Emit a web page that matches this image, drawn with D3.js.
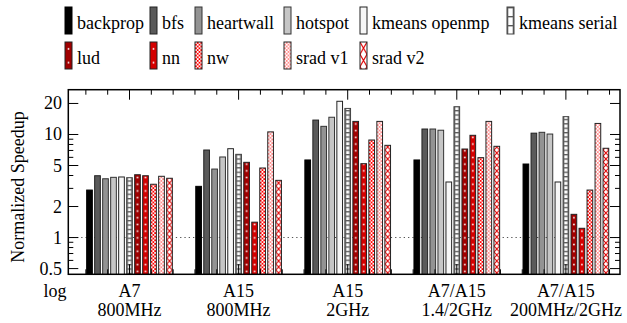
<!DOCTYPE html>
<html>
<head>
<meta charset="utf-8">
<script src="https://cdn.jsdelivr.net/npm/d3@7"></script>
<style>
  html, body { margin: 0; padding: 0; background: #fff; }
  svg { display: block; }
</style>
</head>
<body>
<svg id="chart" width="627" height="323" font-family="'Liberation Serif', 'DejaVu Serif', serif"></svg>
<script>
// ---------------- data ----------------
const groups = ["A7|800MHz", "A15|800MHz", "A15|2GHz", "A7/A15|1.4/2GHz", "A7/A15|200MHz/2GHz"];
const series = ["backprop", "bfs", "heartwall", "hotspot", "kmeans openmp", "kmeans serial",
                "lud", "nn", "nw", "srad v1", "srad v2"];
const backprop     = [2.89, 3.14, 5.66, 5.66, 5.17];
const bfs          = [3.98, 7.07, 13.8, 11.3, 10.3];
const heartwall    = [3.72, 4.62, 12.0, 11.3, 10.5];
const hotspot      = [3.84, 6.05, 14.7, 11.0, 10.1];
const kmeansOpenmp = [3.87, 7.28, 21.0, 3.46, 3.46];
const kmeansSerial = [3.81, 6.42, 17.9, 18.6, 14.9];
const lud          = [4.07, 5.37, 13.4, 7.23, 1.68];
const nn           = [3.98, 1.41, 5.21, 9.82, 1.23];
const nw           = [3.29, 4.73, 8.84, 5.96, 2.89];
const sradV1       = [3.93, 10.6, 13.4, 13.4, 12.8];
const sradV2       = [3.76, 3.59, 7.85, 7.68, 7.35];
const values = [backprop, bfs, heartwall, hotspot, kmeansOpenmp, kmeansSerial, lud, nn, nw, sradV1, sradV2];
const yMajorTicks = [0.5, 1, 2, 5, 10, 20];
const yMinorTicks = [0.6, 0.7, 0.8, 0.9, 3, 4, 6, 7, 8, 9];
const yTickLabels = ["0.5", "1", "2", "5", "10", "20"];
const yTitle = "Normalized Speedup";
const xCornerLabel = "log";

// ---------------- layout ----------------
const FONT = "Liberation Serif";
const svg = d3.select("#chart");
const plot = { left: 68.3, right: 620, top: 89.7, bottom: 274.3 };

const y = d3.scaleLog().domain([0.44, 27.2]).range([plot.bottom, plot.top]);
const xAxisLin = d3.scaleLinear().domain([-0.561, 4.496]).range([plot.left, plot.right]);
const xGroup = d3.scalePoint().domain(groups).range([xAxisLin(0), xAxisLin(4)]);
const xBar = d3.scaleBand().domain(series).range([-44, 44]).paddingInner(0.29).paddingOuter(0.145);
const bw = xBar.bandwidth();

function addText(x, yy, str, anchor) {
  return svg.append("text").attr("x", x).attr("y", yy)
    .attr("font-family", FONT).attr("font-size", 18).attr("fill", "#000")
    .attr("text-anchor", anchor || "start").text(str);
}

// ---------------- patterns ----------------
const defs = svg.append("defs");
const styles = {
  "backprop":      { fill: "#000000", stroke: "#000" },
  "bfs":           { fill: "#5a5a5a", stroke: "#222" },
  "heartwall":     { fill: "#939393", stroke: "#333" },
  "hotspot":       { fill: "#c6c6c6", stroke: "#333" },
  "kmeans openmp": { fill: "#f7f7f7", stroke: "#222" },
  "kmeans serial": { pattern: "ladder", stroke: "#444" },
  "lud":           { pattern: "dots", bg: "#a00000", stroke: "#222" },
  "nn":            { pattern: "dots", bg: "#d40000", stroke: "#222" },
  "nw":            { pattern: "checker", bg: "#ff0000", fg: "#ffffff", stroke: "#222" },
  "srad v1":       { pattern: "checker", bg: "#ff8c8c", fg: "#ffffff", stroke: "#222" },
  "srad v2":       { pattern: "cross", bg: "#ffffff", fg: "#e00000", stroke: "#222" }
};

// sc: vertical repeat scale (legend samples use a coarser repeat)
function makePattern(id, st, x0, w, y0, sc) {
  if (st.pattern === "ladder") {
    const h = 4.4 * sc;
    const p = defs.append("pattern").attr("id", id).attr("patternUnits", "userSpaceOnUse")
      .attr("x", x0).attr("y", y0).attr("width", w).attr("height", h);
    p.append("rect").attr("width", w).attr("height", h).attr("fill", "#fff");
    p.append("rect").attr("x", 0).attr("y", 0).attr("width", w).attr("height", 1.3).attr("fill", "#555");
    p.append("rect").attr("x", 0).attr("y", 0).attr("width", 1.3).attr("height", h).attr("fill", "#666");
    p.append("rect").attr("x", w - 1.3).attr("y", 0).attr("width", 1.3).attr("height", h).attr("fill", "#666");
  } else if (st.pattern === "dots") {
    const h = 6.7 * sc;
    const p = defs.append("pattern").attr("id", id).attr("patternUnits", "userSpaceOnUse")
      .attr("x", x0).attr("y", y0).attr("width", w).attr("height", h);
    p.append("rect").attr("width", w).attr("height", h).attr("fill", st.bg);
    p.append("rect").attr("x", w / 2 - 0.8).attr("y", h / 2 - 0.8).attr("width", 1.6).attr("height", 1.6).attr("fill", "#fff");
  } else if (st.pattern === "checker") {
    const p = defs.append("pattern").attr("id", id).attr("patternUnits", "userSpaceOnUse")
      .attr("x", x0).attr("y", y0).attr("width", 3.6).attr("height", 3.6);
    p.append("rect").attr("width", 3.6).attr("height", 3.6).attr("fill", st.bg);
    p.append("rect").attr("x", 0).attr("y", 0).attr("width", 1.8).attr("height", 1.8).attr("fill", st.fg);
    p.append("rect").attr("x", 1.8).attr("y", 1.8).attr("width", 1.8).attr("height", 1.8).attr("fill", st.fg);
  } else if (st.pattern === "cross") {
    const h = 6 * sc;
    const p = defs.append("pattern").attr("id", id).attr("patternUnits", "userSpaceOnUse")
      .attr("x", x0).attr("y", y0).attr("width", w).attr("height", h);
    p.append("rect").attr("width", w).attr("height", h).attr("fill", st.bg);
    p.append("path").attr("d", `M0,0L${w},${h}M${w},0L0,${h}`).attr("stroke", st.fg)
      .attr("stroke-width", 1.1).attr("fill", "none");
  }
}
function fillFor(sname, id, x0, w, y0, sc) {
  const st = styles[sname];
  if (!st.pattern) return st.fill;
  makePattern(id, st, x0, w, y0 || 0, sc || 1);
  return `url(#${id})`;
}

// ---------------- clip ----------------
defs.append("clipPath").attr("id", "plotclip").append("rect")
  .attr("x", plot.left).attr("y", plot.top)
  .attr("width", plot.right - plot.left).attr("height", plot.bottom - plot.top);

// ---------------- reference line at 1 ----------------
svg.append("line")
  .attr("x1", plot.left).attr("x2", plot.right)
  .attr("y1", y(1)).attr("y2", y(1))
  .attr("stroke", "#555").attr("stroke-width", 1.1).attr("stroke-dasharray", "1.3,3");

// ---------------- bars ----------------
const barsG = svg.append("g").attr("clip-path", "url(#plotclip)");
groups.forEach((g, gi) => {
  series.forEach((s, si) => {
    const v = values[si][gi];
    const x0 = xGroup(g) + xBar(s);
    const f = fillFor(s, `p${si}_${gi}`, x0, bw, 0, 1);
    barsG.append("rect")
      .attr("x", x0).attr("y", y(v))
      .attr("width", bw).attr("height", plot.bottom + 2 - y(v))
      .attr("fill", f)
      .attr("stroke", styles[s].stroke).attr("stroke-width", 1);
  });
});

// ---------------- frame & ticks ----------------
const axG = svg.append("g").attr("stroke", "#000");
d3.range(-2, 23).map(k => k / 5).forEach(t => {
  if (t < xAxisLin.domain()[0] || t > xAxisLin.domain()[1]) return;
  const major = Math.abs(t - Math.round(t)) < 1e-6;
  const len = major ? 10 : 5;
  const xx = xAxisLin(t);
  axG.append("line").attr("x1", xx).attr("x2", xx).attr("y1", plot.top).attr("y2", plot.top + len).attr("stroke-width", 1);
  axG.append("line").attr("x1", xx).attr("x2", xx).attr("y1", plot.bottom).attr("y2", plot.bottom - len).attr("stroke-width", 1);
});
yMajorTicks.forEach(t => {
  axG.append("line").attr("x1", plot.left).attr("x2", plot.left + 10).attr("y1", y(t)).attr("y2", y(t)).attr("stroke-width", 1);
  axG.append("line").attr("x1", plot.right).attr("x2", plot.right - 10).attr("y1", y(t)).attr("y2", y(t)).attr("stroke-width", 1);
});
yMinorTicks.forEach(t => {
  axG.append("line").attr("x1", plot.left).attr("x2", plot.left + 5).attr("y1", y(t)).attr("y2", y(t)).attr("stroke-width", 1);
  axG.append("line").attr("x1", plot.right).attr("x2", plot.right - 5).attr("y1", y(t)).attr("y2", y(t)).attr("stroke-width", 1);
});
svg.append("rect")
  .attr("x", plot.left).attr("y", plot.top)
  .attr("width", plot.right - plot.left).attr("height", plot.bottom - plot.top)
  .attr("fill", "none").attr("stroke", "#000").attr("stroke-width", 1.5);

// y tick labels
yMajorTicks.forEach((t, i) => addText(62, y(t) + 6, yTickLabels[i], "end"));

// y title
svg.append("text")
  .attr("transform", `translate(24,${(plot.top + plot.bottom) / 2 + 5}) rotate(-90)`)
  .attr("font-family", FONT).attr("font-size", 18).attr("fill", "#000")
  .attr("text-anchor", "middle").text(yTitle);

// x labels
groups.forEach(g => {
  g.split("|").forEach((p, li) => addText(xGroup(g), 297 + li * 19, p, "middle"));
});
addText(55, 297, xCornerLabel, "middle");

// ---------------- legend ----------------
const legendCols = [65, 150, 195, 284, 360, 507];
const legendRows = [7, 42];
series.forEach((s, i) => {
  const row = i < 6 ? 0 : 1;
  const c = i < 6 ? i : i - 6;
  const lx = legendCols[c];
  const ly = legendRows[row];
  const f = fillFor(s, `leg${i}`, lx, 7, ly, 2.05);
  svg.append("rect").attr("x", lx).attr("y", ly).attr("width", 7).attr("height", 27)
    .attr("fill", f).attr("stroke", styles[s].stroke).attr("stroke-width", 1);
  addText(lx + 12, ly + 22, s, "start");
});
</script>
</body>
</html>
